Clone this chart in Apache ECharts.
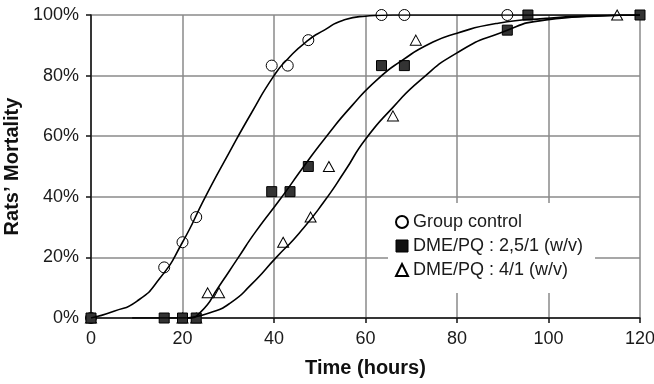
<!DOCTYPE html>
<html>
<head>
<meta charset="utf-8">
<script src="https://cdn.jsdelivr.net/npm/echarts@6/dist/echarts.min.js"></script>
<style>
  html, body { margin: 0; padding: 0; background: #fff; }
  #chart { width: 654px; height: 384px; }
</style>
</head>
<body>
<div id="chart"></div>
<script>
// measured points (hours, % mortality)
const ctrlHours = [0, 16, 20, 23, 39.5, 43, 47.5, 63.5, 68.5, 91];
const ctrlMort = [0, 16.7, 25, 33.3, 83.3, 83.3, 91.7, 100, 100, 100];

const dme25Hours = [0, 16, 20, 23, 39.5, 43.5, 47.5, 63.5, 68.5, 91, 95.5, 120];
const dme25Mort = [0, 0, 0, 0, 41.7, 41.7, 50, 83.3, 83.3, 95, 100, 100];

const dme41Hours = [0, 20, 23, 25.5, 28, 42, 48, 52, 66, 71, 115];
const dme41Mort = [0, 0, 0, 8.3, 8.3, 25, 33.3, 50, 66.7, 91.7, 100];

// fitted curves
const ctrlFitHours = [0, 5, 10, 15, 20, 25, 30, 35, 40, 43, 47.5, 51, 55, 60, 66, 120];
const ctrlFitMort = [0, 2.2, 5.5, 13, 25, 40, 54, 67.5, 80, 85.5, 91.7, 95, 98.2, 99.6, 100, 100];

const dme25FitHours = [9, 21, 24, 28, 32, 36, 41.5, 46.5, 51.5, 57, 62.8, 68, 74, 80, 89, 99.5, 110, 120];
const dme25FitMort = [0, 0, 2, 10.5, 19.5, 28.5, 39.5, 50, 60, 70, 79, 85, 90.5, 94, 97.3, 98.9, 99.7, 100];

const dme41FitHours = [21, 26, 30.5, 35, 40.5, 45.5, 51, 55.5, 60, 66, 72, 80, 89.3, 99.5, 110, 120];
const dme41FitMort = [0, 1.7, 5, 11, 20, 28, 38.5, 48.5, 59, 69.5, 78.5, 87.5, 94, 98.4, 99.6, 100];

const xTicks = [0, 20, 40, 60, 80, 100, 120];
const yTicks = [0, 20, 40, 60, 80, 100];

const legendNames = ["Group control", "DME/PQ : 2,5/1 (w/v)", "DME/PQ : 4/1 (w/v)"];

const FONT = "'Liberation Sans', Arial, sans-serif";

function pairs(xs, ys) {
  return xs.map((x, i) => [x, ys[i]]);
}

function fitLine(name, xs, ys) {
  return {
    name: name,
    type: "line",
    data: pairs(xs, ys),
    smooth: 0.6,
    symbol: "none",
    lineStyle: { color: "#000", width: 1.6 },
    z: 4,
    silent: true,
  };
}

const chart = echarts.init(document.getElementById("chart"), null, { renderer: "canvas" });

const option = {
  animation: false,
  backgroundColor: "#fff",
  textStyle: { fontFamily: FONT },
  grid: { left: 91, right: 14, top: 15, bottom: 66, containLabel: false, outerBoundsMode: "none" },
  legend: {
    orient: "vertical",
    left: 388,
    top: 203,
    padding: [10, 12, 14, 7],
    backgroundColor: "#fff",
    itemGap: 6,
    itemWidth: 12,
    itemHeight: 12,
    textStyle: { fontSize: 18, color: "#1a1a1a", fontFamily: FONT, lineHeight: 18 },
    data: [
      { name: legendNames[0], icon: "circle", itemStyle: { color: "#fff", borderColor: "#000", borderWidth: 2 } },
      { name: legendNames[1], icon: "rect", itemStyle: { color: "#111", borderColor: "#000", borderWidth: 1 } },
      { name: legendNames[2], icon: "triangle", itemStyle: { color: "#fff", borderColor: "#000", borderWidth: 2 } },
    ],
    z: 10,
  },
  xAxis: {
    type: "value",
    min: xTicks[0],
    max: xTicks[xTicks.length - 1],
    interval: 20,
    name: "Time (hours)",
    nameLocation: "middle",
    nameGap: 40,
    nameTextStyle: { fontSize: 20, fontWeight: "bold", color: "#111", fontFamily: FONT },
    axisLine: { onZero: false, lineStyle: { color: "#111", width: 1.5 } },
    axisTick: { show: true, inside: false, length: 5, lineStyle: { color: "#111", width: 1.5 } },
    axisLabel: { fontSize: 18, color: "#1a1a1a", margin: 12, fontFamily: FONT },
    splitLine: { show: true, lineStyle: { color: "#8a8a8a", width: 1.5 } },
  },
  yAxis: {
    type: "value",
    min: yTicks[0],
    max: yTicks[yTicks.length - 1],
    interval: 20,
    name: "Rats\u2019 Mortality",
    nameLocation: "middle",
    nameGap: 63,
    nameRotate: 90,
    nameTextStyle: { fontSize: 20, fontWeight: "bold", color: "#111", fontFamily: FONT },
    axisLine: { show: true, onZero: false, lineStyle: { color: "#111", width: 1.5 } },
    axisTick: { show: true, inside: false, length: 5, lineStyle: { color: "#111", width: 1.5 } },
    axisLabel: { fontSize: 18, color: "#1a1a1a", margin: 12, formatter: "{value}%", fontFamily: FONT },
    splitLine: { show: true, lineStyle: { color: "#8a8a8a", width: 1.5 } },
  },
  series: [
    {
      name: legendNames[0],
      type: "scatter",
      data: pairs(ctrlHours, ctrlMort),
      symbol: "circle",
      symbolSize: 11,
      clip: false,
      itemStyle: { color: "#fff", borderColor: "#000", borderWidth: 1, opacity: 1 },
      z: 3,
    },
    {
      name: legendNames[1],
      type: "scatter",
      data: pairs(dme25Hours, dme25Mort),
      symbol: "rect",
      symbolSize: 10,
      clip: false,
      itemStyle: { color: "#333", borderColor: "#000", borderWidth: 1, opacity: 1 },
      z: 3,
    },
    {
      name: legendNames[2],
      type: "scatter",
      data: pairs(dme41Hours, dme41Mort),
      symbol: "triangle",
      symbolSize: [11, 10],
      clip: false,
      itemStyle: { color: "#fff", borderColor: "#000", borderWidth: 1, opacity: 1 },
      z: 2,
    },
    fitLine("fitControl", ctrlFitHours, ctrlFitMort),
    fitLine("fit25", dme25FitHours, dme25FitMort),
    fitLine("fit41", dme41FitHours, dme41FitMort),
  ],
};

chart.setOption(option);
</script>
</body>
</html>
